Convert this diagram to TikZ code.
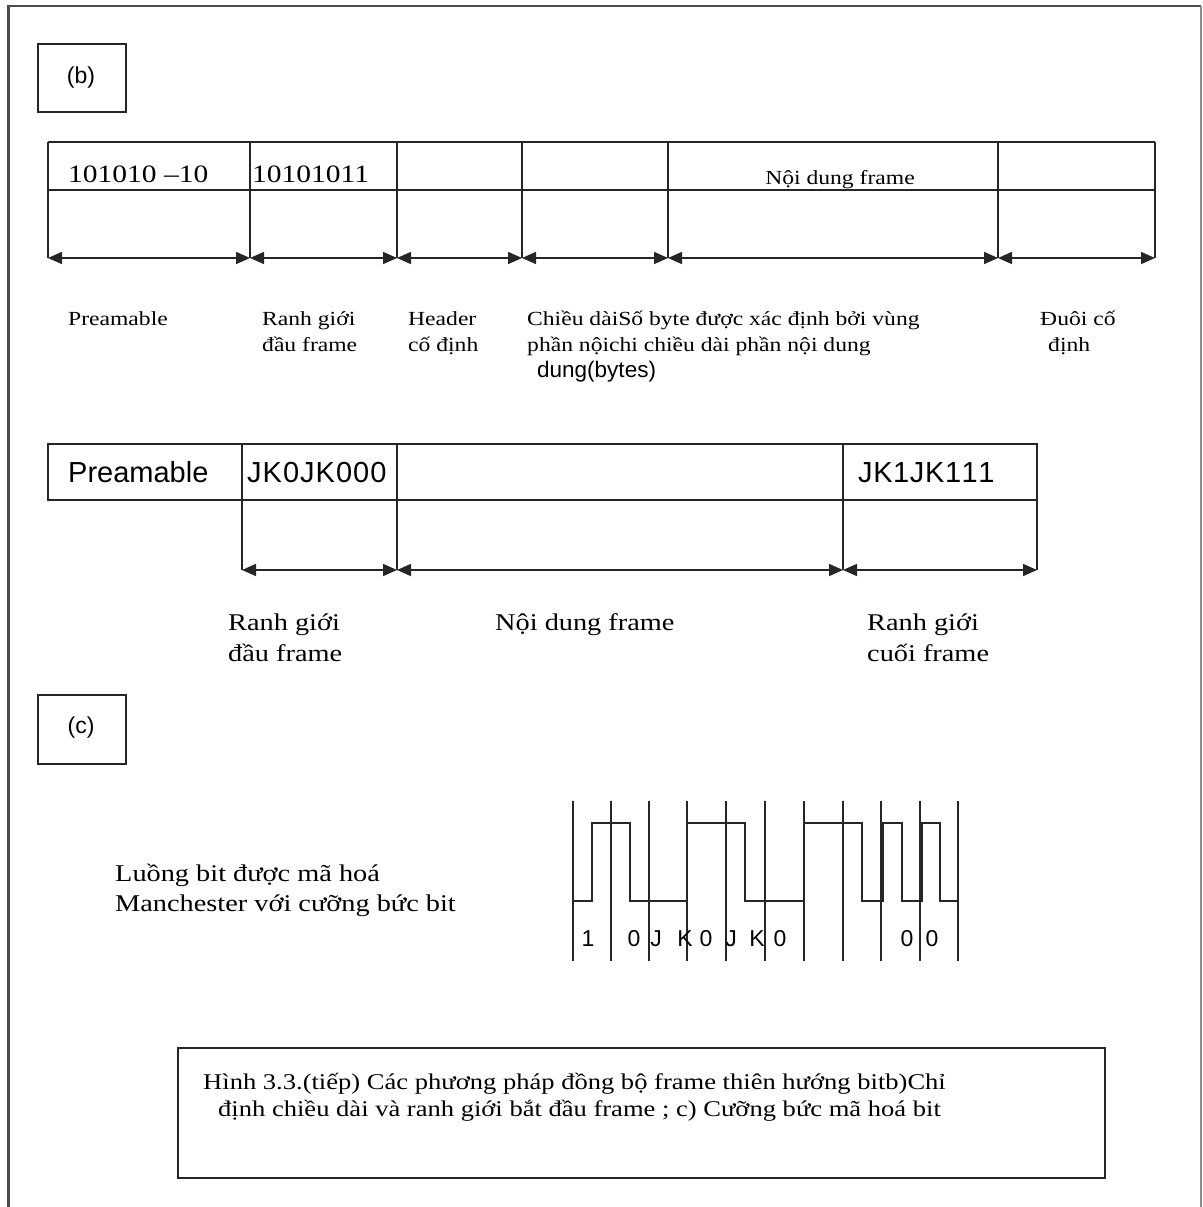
\documentclass[tikz,border=0pt]{standalone}
\usepackage{fontspec}
\setmainfont[FakeStretch=1.18]{Liberation Serif}
\newfontfamily\sansf{Liberation Sans}
\usetikzlibrary{arrows.meta}
\begin{document}
\begin{tikzpicture}[x=1pt,y=-1pt,
  ln/.style={draw=black!85,line width=1.6pt},
  arr/.style={ln,{Triangle[length=14pt,width=12pt]}-{Triangle[length=14pt,width=12pt]}},
  txt/.style={anchor=base west,inner sep=0pt},
  lab/.style={txt,font=\fontsize{20}{24}\selectfont},
  capf/.style={txt,font=\fontsize{22.5}{26}\selectfont},
  labb/.style={txt,font=\fontsize{24}{28}\selectfont},
  big/.style={txt,font=\fontsize{25}{30}\selectfont},
  sfb/.style={txt,font=\sansf\fontsize{29}{34}\selectfont},
  wl/.style={anchor=base,inner sep=0pt,font=\sansf\fontsize{23}{28}\selectfont},
  tag/.style={anchor=base,inner sep=0pt,font=\sansf\fontsize{23}{28}\selectfont}]
\useasboundingbox (0,0) rectangle (1202,1207);
\fill[white] (0,0) rectangle (1202,1207);
% outer frame
\draw[draw=black!70,line width=2.5pt] (8.5,1210) -- (8.5,6) -- (1200.5,6);
\draw[draw=black!45,line width=2pt] (1200.5,6) -- (1200.5,1210);
% (b) box
\draw[ln] (38,44) rectangle (126,112);
\node[tag] (lb) at (81,84) {(b)};
% ---------- top frame ----------
\foreach \n/\x in {0/48,1/250,2/397,3/522,4/668,5/998,6/1155}{
  \coordinate (T\n) at (\x,142);
  \coordinate (M\n) at (\x,190);
  \coordinate (B\n) at (\x,258);
}
\draw[ln] (T0) -- (T6);
\draw[ln] (M0) -- (M6);
\foreach \n in {0,...,6}{\draw[ln] (T\n) -- (B\n);}
\draw[arr] (B0) -- (B1);
\draw[arr] (B1) -- (B2);
\draw[arr] (B2) -- (B3);
\draw[arr] (B3) -- (B4);
\draw[arr] (B4) -- (B5);
\draw[arr] (B5) -- (B6);
\node[big] (f1) at (68,182) {101010 –10};
\node[big] (f2) at (252,182) {10101011};
\node[anchor=base,inner sep=0pt,font=\fontsize{20}{24}\selectfont] (f3) at (840,184) {Nội dung frame};
% labels row 1
\node[lab] (p1) at (68,325) {Preamable};
\node[lab] (r1a) at (262,325) {Ranh giới};
\node[lab] (r1b) at (262,351) {đầu frame};
\node[lab] (h1a) at (408,325) {Header};
\node[lab] (h1b) at (408,351) {cố định};
\node[lab] (c1a) at (527,325) {Chiều dàiSố byte được xác định bởi vùng};
\node[lab] (c1b) at (527,351) {phần nộichi chiều dài phần nội dung};
\node[txt,font=\sansf\fontsize{22.5}{26}\selectfont] (c1c) at (537,377) {dung(bytes)};
\node[lab] (d1a) at (1040,325) {Đuôi cố};
\node[lab] (d1b) at (1048,351) {định};
% ---------- second frame ----------
\foreach \n/\x in {0/48,1/242,2/397,3/843,4/1037}{
  \coordinate (U\n) at (\x,444);
  \coordinate (V\n) at (\x,500);
  \coordinate (W\n) at (\x,570);
}
\draw[ln] (U0) rectangle (V4);
\foreach \n in {1,...,4}{\draw[ln] (U\n) -- (W\n);}
\draw[arr] (W1) -- (W2);
\draw[arr] (W2) -- (W3);
\draw[arr] (W3) -- (W4);
\node[sfb] (g1) at (68,482) {Preamable};
\node[sfb] (g2) at (247,482) {J\kern1ptK\kern1pt0\kern1ptJ\kern1ptK\kern1pt0\kern1pt0\kern1pt0};
\node[sfb] (g3) at (858,482) {J\kern0.6ptK\kern0.6pt1\kern0.6ptJ\kern0.6ptK\kern0.6pt1\kern0.6pt1\kern0.6pt1};
\node[labb] (r2a) at (228,630) {Ranh giới};
\node[labb] (r2b) at (228,661) {đầu frame};
\node[labb] (n2) at (495,630) {Nội dung frame};
\node[labb] (e2a) at (867,630) {Ranh giới};
\node[labb] (e2b) at (867,661) {cuối frame};
% (c) box
\node[tag] (lc) at (81,733) {(c)};
\draw[ln] (38,695) rectangle (126,764);
\node[labb] (m1) at (115,881) {Luồng bit được mã hoá};
\node[labb] (m2) at (115,911) {Manchester với cưỡng bức bit};
% waveform
\foreach \n/\x in {0/573,1/611,2/649,3/687,4/726,5/765,6/804,7/843,8/881,9/920,10/958}{
  \coordinate (Q\n) at (\x,801);
  \coordinate (R\n) at (\x,961);
  \draw[ln] (Q\n) -- (R\n);
}
\coordinate (ws) at (573,901);
\coordinate (we) at (958,901);
\draw[ln] (ws) -- (592,901) -- (592,823) -- (630,823) -- (630,901) -- (687,901)
  -- (687,823) -- (745,823) -- (745,901) -- (804,901) -- (804,823) -- (862,823)
  -- (862,901) -- (883,901) -- (883,823) -- (902,823) -- (902,901) -- (922,901)
  -- (922,823) -- (940,823) -- (940,901) -- (we);
\foreach \n/\x/\t in {a/588/1,b/634/0,c/656/J,d/685/K,e/706/0,f/731/J,g/757/K,h/780/0,i/907/0,j/932/0}{
  \node[wl] (w\n) at (\x,946) {\t};
}
% caption
\draw[ln] (178,1048) rectangle (1105,1178);
\node[capf] (cap1) at (203,1089) {Hình 3.3.(tiếp) Các phương pháp đồng bộ frame thiên hướng bitb)Chỉ};
\node[capf] (cap2) at (218,1116) {định chiều dài và ranh giới bắt đầu frame ; c) Cưỡng bức mã hoá bit};
\end{tikzpicture}
\end{document}
